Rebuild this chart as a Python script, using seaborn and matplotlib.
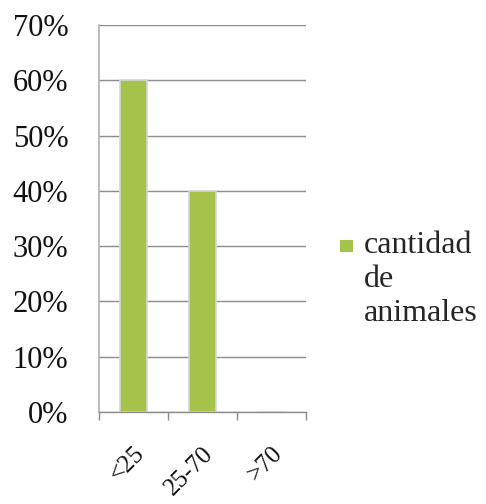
import matplotlib
matplotlib.use("Agg")
import matplotlib.pyplot as plt
import seaborn as sns
import pandas as pd
from matplotlib.ticker import FuncFormatter, FixedLocator
from matplotlib.legend_handler import HandlerPatch
from matplotlib.patches import Rectangle

categories = ["<25", "25-70", ">70"]
values = [0.60, 0.40, 0.0]
series_name = "cantidad\nde\nanimales"
y_ticks = [0, 0.1, 0.2, 0.3, 0.4, 0.5, 0.6, 0.7]

sns.set_style("white")
plt.rcParams['font.family'] = ['Liberation Serif', 'DejaVu Serif']

df = pd.DataFrame({"cat": categories, "val": values, "serie": series_name})

fig = plt.figure(figsize=(4.86, 5.04), dpi=100)
ax = fig.add_axes([0.2037, 0.1825, 0.426, 0.768])

green = "#A5C24A"
sns.barplot(data=df, x="cat", y="val", hue="serie", palette=[green], width=0.4,
            saturation=1, ax=ax, edgecolor="#d6d6d6", linewidth=1.2, legend=True)

ax.set_ylim(0, 0.7)
ax.set_xlim(-0.5, 2.5)
ax.yaxis.set_major_locator(FixedLocator(y_ticks))
ax.yaxis.set_major_formatter(FuncFormatter(lambda v, p: f"{round(v*100)}%"))
ax.grid(axis="y", color="#8c8c8c", linewidth=1.0)
ax.set_axisbelow(True)
for s in ["top", "right"]:
    ax.spines[s].set_visible(False)
ax.spines["left"].set_color("#b0b0b0")
ax.spines["left"].set_linewidth(1.2)
ax.spines["bottom"].set_color("#8c8c8c")
ax.spines["bottom"].set_linewidth(1.0)

ax.tick_params(axis="y", length=9, color="#8c8c8c", width=1.0, pad=13, labelsize=22, labelcolor="#111111")
ax.set_xticks([-0.5, 0.5, 1.5, 2.5], minor=True)
ax.tick_params(axis="x", which="minor", length=6, color="#8c8c8c", width=1.0, bottom=True)
ax.tick_params(axis="x", which="major", length=0, pad=22, labelsize=18, labelcolor="#111111")
ax.set_xticks(range(len(categories)))
ax.set_xticklabels(categories, rotation=45, ha="right", rotation_mode="anchor")
ax.set_xlabel("")
ax.set_ylabel("")


class TopSquare(HandlerPatch):
    def create_artists(self, legend, orig_handle, xdescent, ydescent, width, height, fontsize, trans):
        s = 0.4 * fontsize
        top = -ydescent + height + 0.05 * fontsize
        r = Rectangle((-xdescent, top - s), s, s,
                      facecolor=orig_handle.get_facecolor(), edgecolor="none", transform=trans)
        return [r]


handles, labels = ax.get_legend_handles_labels()
leg = ax.legend(handles, labels, loc="upper left", bbox_to_anchor=(1.025, 0.542), frameon=False,
                fontsize=23, handlelength=0.4, handleheight=3.5, handletextpad=0.35,
                labelspacing=0.2, handler_map={type(handles[0]): TopSquare()})
for t in leg.get_texts():
    t.set_linespacing(1.22)

fig.savefig("out.png", dpi=100, facecolor="white")
